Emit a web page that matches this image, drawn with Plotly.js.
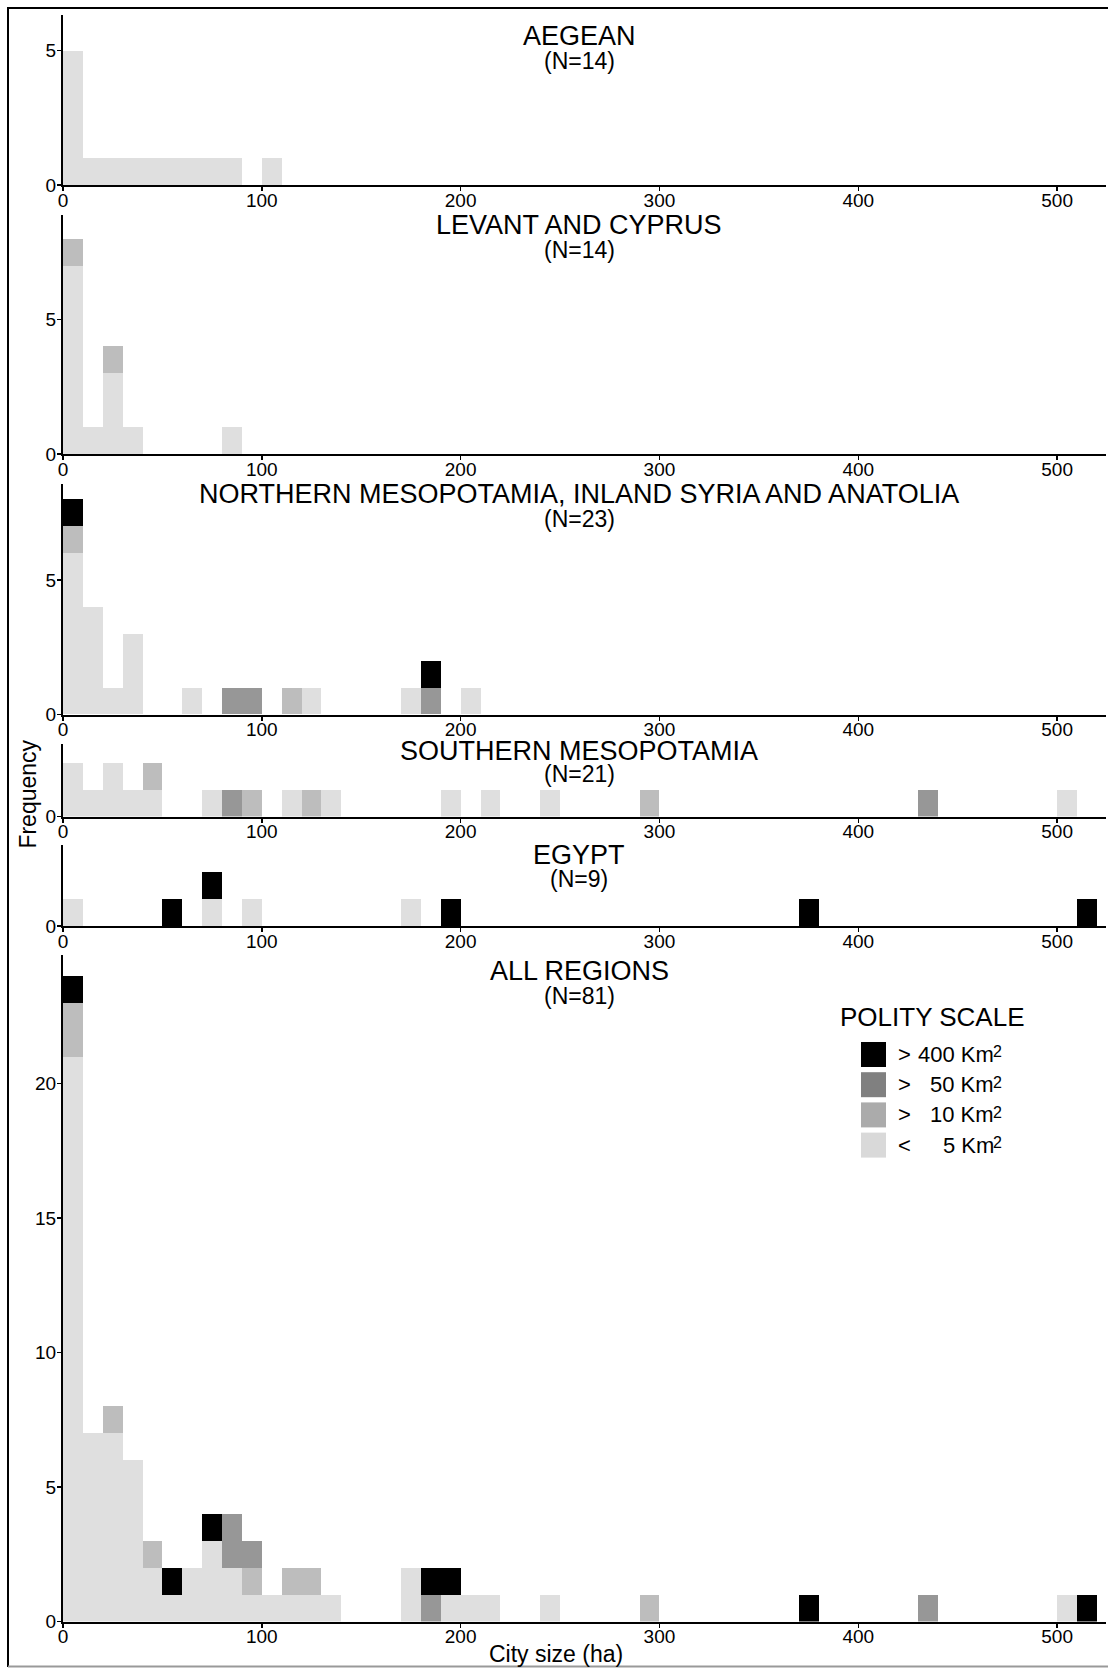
<!DOCTYPE html>
<html>
<head>
<meta charset="utf-8">
<script src="https://cdn.plot.ly/plotly-3.0.1.min.js"></script>
<style>
  html, body { margin: 0; padding: 0; background: #fff; }
  #chart { width: 1108px; height: 1668px; }
</style>
</head>
<body>
<div id="chart"></div>
<script>
// Lower edge of each 10-ha city-size bin that holds at least one city
const bins = [0, 10, 20, 30, 40, 50, 60, 70, 80, 90, 100, 110, 120, 130, 170, 180, 190, 200, 210, 240, 290, 370, 430, 500, 510];

// Polity scale classes (stack order bottom -> top)
const polityClasses = ['< 5 Km2', '> 10 Km2', '> 50 Km2', '> 400 Km2'];

// Regions and their sample sizes
const regions = ['AEGEAN', 'LEVANT AND CYPRUS', 'NORTHERN MESOPOTAMIA, INLAND SYRIA AND ANATOLIA', 'SOUTHERN MESOPOTAMIA', 'EGYPT', 'ALL REGIONS'];
const regionN = [14, 14, 23, 21, 9, 81];

// Counts of cities per bin, by polity scale
const aegeanLt5    = [5,1,1,1,1,1,1,1,1,0,1,0,0,0,0,0,0,0,0,0,0,0,0,0,0];
const aegeanGt10   = [0,0,0,0,0,0,0,0,0,0,0,0,0,0,0,0,0,0,0,0,0,0,0,0,0];
const aegeanGt50   = [0,0,0,0,0,0,0,0,0,0,0,0,0,0,0,0,0,0,0,0,0,0,0,0,0];
const aegeanGt400  = [0,0,0,0,0,0,0,0,0,0,0,0,0,0,0,0,0,0,0,0,0,0,0,0,0];

const levantLt5    = [7,1,3,1,0,0,0,0,1,0,0,0,0,0,0,0,0,0,0,0,0,0,0,0,0];
const levantGt10   = [1,0,1,0,0,0,0,0,0,0,0,0,0,0,0,0,0,0,0,0,0,0,0,0,0];
const levantGt50   = [0,0,0,0,0,0,0,0,0,0,0,0,0,0,0,0,0,0,0,0,0,0,0,0,0];
const levantGt400  = [0,0,0,0,0,0,0,0,0,0,0,0,0,0,0,0,0,0,0,0,0,0,0,0,0];

const nMesoLt5     = [6,4,1,3,0,0,1,0,0,0,0,0,1,0,1,0,0,1,0,0,0,0,0,0,0];
const nMesoGt10    = [1,0,0,0,0,0,0,0,0,0,0,1,0,0,0,0,0,0,0,0,0,0,0,0,0];
const nMesoGt50    = [0,0,0,0,0,0,0,0,1,1,0,0,0,0,0,1,0,0,0,0,0,0,0,0,0];
const nMesoGt400   = [1,0,0,0,0,0,0,0,0,0,0,0,0,0,0,1,0,0,0,0,0,0,0,0,0];

const sMesoLt5     = [2,1,2,1,1,0,0,1,0,0,0,1,0,1,0,0,1,0,1,1,0,0,0,1,0];
const sMesoGt10    = [0,0,0,0,1,0,0,0,0,1,0,0,1,0,0,0,0,0,0,0,1,0,0,0,0];
const sMesoGt50    = [0,0,0,0,0,0,0,0,1,0,0,0,0,0,0,0,0,0,0,0,0,0,1,0,0];
const sMesoGt400   = [0,0,0,0,0,0,0,0,0,0,0,0,0,0,0,0,0,0,0,0,0,0,0,0,0];

const egyptLt5     = [1,0,0,0,0,0,0,1,0,1,0,0,0,0,1,0,0,0,0,0,0,0,0,0,0];
const egyptGt10    = [0,0,0,0,0,0,0,0,0,0,0,0,0,0,0,0,0,0,0,0,0,0,0,0,0];
const egyptGt50    = [0,0,0,0,0,0,0,0,0,0,0,0,0,0,0,0,0,0,0,0,0,0,0,0,0];
const egyptGt400   = [0,0,0,0,0,1,0,1,0,0,0,0,0,0,0,0,1,0,0,0,0,1,0,0,1];

const allLt5       = [21,7,7,6,2,1,2,3,2,1,1,1,1,1,2,0,1,1,1,1,0,0,0,1,0];
const allGt10      = [2,0,1,0,1,0,0,0,0,1,0,1,1,0,0,0,0,0,0,0,1,0,0,0,0];
const allGt50      = [0,0,0,0,0,0,0,0,2,1,0,0,0,0,0,1,0,0,0,0,0,0,1,0,0];
const allGt400     = [1,0,0,0,0,1,0,1,0,0,0,0,0,0,0,1,1,0,0,0,0,1,0,0,1];

const yTicks = [[0, 5], [0, 5], [0, 5], [0], [0], [0, 5, 10, 15, 20]];
const xTicks = [0, 100, 200, 300, 400, 500];

// ---- presentation ----
const panelCounts = [
  [aegeanLt5, aegeanGt10, aegeanGt50, aegeanGt400],
  [levantLt5, levantGt10, levantGt50, levantGt400],
  [nMesoLt5, nMesoGt10, nMesoGt50, nMesoGt400],
  [sMesoLt5, sMesoGt10, sMesoGt50, sMesoGt400],
  [egyptLt5, egyptGt10, egyptGt50, egyptGt400],
  [allLt5, allGt10, allGt50, allGt400]
];
const barColors    = ['#dfdfdf', '#bdbdbd', '#979797', '#000000'];
const legendColors = ['#d9d9d9', '#ababab', '#808080', '#000000'];

const W = 1108, H = 1668;
const L = 63, R = 1106, T = 14, B = 1622;
const px = x => (x - L) / (R - L);
const py = y => (B - y) / (B - T);

// panel extents in page pixels, and the y range that fits each
const panelTop    = [14.9, 214.8, 483.8, 744.3, 845.3, 954.8];
const panelBottom = [185.0, 454.0, 714.5, 816.6, 926.1, 1621.6];
const pxPerCount  = 26.9;
const xMax = 524.6;

const FONT = 'Liberation Sans, Arial, Helvetica, sans-serif';
const titleY = [[36, 60.6], [225.4, 249.9], [494.4, 518.9], [750.7, 774.1], [854.9, 879.4], [970.8, 996.3]];
const titleX = 579;

const traces = [];
const layout = {
  width: W, height: H, autosize: false,
  margin: { l: L, r: W - R, t: T, b: H - B, pad: 0 },
  paper_bgcolor: '#fff', plot_bgcolor: 'rgba(0,0,0,0)',
  font: { family: FONT, color: '#000', size: 19 },
  barmode: 'stack',
  showlegend: false,
  annotations: [],
  shapes: []
};

panelCounts.forEach((series, p) => {
  const ax = p === 0 ? '' : String(p + 1);
  series.forEach((counts, c) => {
    traces.push({
      type: 'bar',
      x: bins, y: counts,
      width: 10, offset: 0,
      name: polityClasses[c],
      marker: { color: barColors[c], line: { width: 0 } },
      xaxis: 'x' + ax, yaxis: 'y' + ax,
      hoverinfo: 'skip'
    });
  });
  const yTop = (panelBottom[p] - panelTop[p]) / pxPerCount;
  layout['xaxis' + ax] = {
    domain: [0, 1], anchor: 'y' + ax, range: [0, xMax],
    showline: true, linecolor: '#000', linewidth: 2,
    ticks: 'outside', ticklen: 4, tickwidth: 1.5, tickcolor: '#000',
    tickvals: xTicks, ticktext: xTicks.map(String),
    ticklabelstandoff: -7,
    tickfont: { size: 19, family: FONT, color: '#000' },
    showgrid: false, zeroline: false, fixedrange: true
  };
  layout['yaxis' + ax] = {
    domain: [py(panelBottom[p]), py(panelTop[p])], anchor: 'x' + ax, range: [0, yTop],
    showline: true, linecolor: '#000', linewidth: 2,
    ticks: 'outside', ticklen: 4, tickwidth: 1.5, tickcolor: '#000',
    tickvals: yTicks[p], ticktext: yTicks[p].map(String),
    ticklabelstandoff: -3,
    tickfont: { size: 19, family: FONT, color: '#000' },
    showgrid: false, zeroline: false, fixedrange: true
  };
  layout.annotations.push({
    xref: 'paper', yref: 'paper', x: px(titleX), y: py(titleY[p][0]),
    xanchor: 'center', yanchor: 'middle', showarrow: false,
    text: regions[p], font: { size: 27, family: FONT, color: '#000' }
  });
  layout.annotations.push({
    xref: 'paper', yref: 'paper', x: px(titleX), y: py(titleY[p][1]),
    xanchor: 'center', yanchor: 'middle', showarrow: false,
    text: '(N=' + regionN[p] + ')', font: { size: 23, family: FONT, color: '#000' }
  });
});

// axis titles
layout.annotations.push({
  xref: 'paper', yref: 'paper', x: px(27.6), y: py(794),
  xanchor: 'center', yanchor: 'middle', showarrow: false, textangle: -90,
  text: 'Frequency', font: { size: 23, family: FONT, color: '#000' }
});
layout.annotations.push({
  xref: 'paper', yref: 'paper', x: px(556), y: py(1654.5),
  xanchor: 'center', yanchor: 'middle', showarrow: false,
  text: 'City size (ha)', font: { size: 23, family: FONT, color: '#000' }
});

// polity scale key (top row = largest polities)
layout.annotations.push({
  xref: 'paper', yref: 'paper', x: px(932), y: py(1016.5),
  xanchor: 'center', yanchor: 'middle', showarrow: false,
  text: 'POLITY SCALE', font: { size: 26, family: FONT, color: '#000' }
});
const keyOrder = [3, 2, 1, 0];
keyOrder.forEach((c, i) => {
  const top = 1042 + i * 30.2;
  const mid = top + 12.5;
  layout.shapes.push({
    type: 'rect', xref: 'paper', yref: 'paper', layer: 'above',
    x0: px(861), x1: px(886), y0: py(top + 25), y1: py(top),
    fillcolor: legendColors[c], line: { width: 0 }
  });
  const parts = polityClasses[c].split(' ');
  layout.annotations.push({
    xref: 'paper', yref: 'paper', x: px(896), y: py(mid),
    xanchor: 'left', yanchor: 'middle', showarrow: false,
    text: parts[0], font: { size: 22, family: FONT, color: '#000' }
  });
  layout.annotations.push({
    xref: 'paper', yref: 'paper', x: px(996), y: py(mid),
    xanchor: 'right', yanchor: 'middle', showarrow: false,
    text: parts[1] + ' ' + parts[2].slice(0, 2),
    font: { size: 22, family: FONT, color: '#000' }
  });
  layout.annotations.push({
    xref: 'paper', yref: 'paper', x: px(991), y: py(mid - 2.5),
    xanchor: 'left', yanchor: 'middle', showarrow: false,
    text: parts[2].slice(2), font: { size: 16, family: FONT, color: '#000' }
  });
});

// figure frame
layout.shapes.push(
  { type: 'line', xref: 'paper', yref: 'paper', layer: 'above',
    x0: px(8), x1: px(1108), y0: py(8), y1: py(8), line: { color: '#000', width: 2 } },
  { type: 'line', xref: 'paper', yref: 'paper', layer: 'above',
    x0: px(8), x1: px(8), y0: py(7), y1: py(1667), line: { color: '#000', width: 2 } },
  { type: 'line', xref: 'paper', yref: 'paper', layer: 'above',
    x0: px(8), x1: px(1108), y0: py(1666.5), y1: py(1666.5), line: { color: '#999', width: 2 } }
);

Plotly.newPlot('chart', traces, layout, { staticPlot: true, displayModeBar: false });
</script>
</body>
</html>
